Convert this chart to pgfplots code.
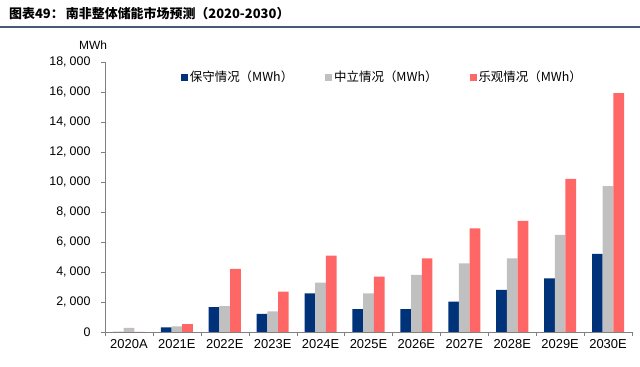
\documentclass[border=0pt]{standalone}
\usepackage{fontspec}
\setmainfont{Liberation Sans}
\newfontfamily\cjk{Noto Sans CJK SC}
\usepackage{pgfplots}
\usepackage{pgfplotstable}
\pgfplotsset{compat=1.18}
\definecolor{cons}{RGB}{0,50,122}
\definecolor{neu}{RGB}{192,192,192}
\definecolor{opt}{RGB}{255,102,102}
\definecolor{axgray}{RGB}{128,128,128}
\definecolor{rule}{RGB}{70,90,120}
\pgfplotstableread{
x cons neu opt
0 0 280 0
1 300 380 520
2 1650 1730 4200
3 1200 1380 2690
4 2580 3290 5090
5 1530 2580 3690
6 1530 3800 4910
7 2020 4580 6910
8 2800 4910 7400
9 3580 6470 10200
10 5200 9730 15930
}\data
\begin{document}
\begin{tikzpicture}
\path[use as bounding box] (0bp,0bp) rectangle (640bp,367bp);
\node[anchor=west,font=\cjk\bfseries\fontsize{13}{15}\selectfont,inner sep=0pt] at (9bp,353bp) {图表49：\,南非整体储能市场预测（2020-2030）};
\draw[rule,line width=1.2bp] (0bp,340bp) -- (640bp,340bp);
\node[font=\fontsize{12}{14}\selectfont] at (93bp,322bp) {MWh};
\begin{axis}[
  at={(105bp,35bp)}, anchor=south west,
  scale only axis, width=527bp, height=270bp,
  xmin=-0.5, xmax=10.5, ymin=0, ymax=18000,
  axis x line*=bottom, axis y line*=left,
  axis line style={axgray, -},
  ybar=0pt, bar width=10.7bp,
  xtick={0,...,10},
  xticklabels={2020A,2021E,2022E,2023E,2024E,2025E,2026E,2027E,2028E,2029E,2030E},
  major x tick style={draw=none},
  minor xtick={-0.5,0.5,...,10.5},
  minor x tick style={axgray},
  minor tick length=4bp,
  ytick={0,2000,...,18000},
  major tick length=4bp,
  tick align=outside,
  y tick style={axgray},
  scaled y ticks=false,
  /pgf/number format/.cd, 1000 sep={,\hspace{3bp}}, assume math mode=true,
  /pgfplots/.cd,
  xticklabel style={font=\fontsize{13}{15}\selectfont},
  yticklabel style={font=\fontsize{12.5}{15}\selectfont, xshift=-7bp},
  legend columns=3,
  legend style={at={(0.138,0.944)}, anchor=west, draw=none, fill=none,
    font=\cjk\fontsize{12.5}{14}\selectfont,
    /tikz/every even column/.append style={column sep=30bp}},
  legend image code/.code={\fill[#1] (0bp,-3.5bp) rectangle (7bp,3.5bp);},
]
\addplot[fill=cons, draw=none] table[x=x,y=cons]{\data};
\addplot[fill=neu, draw=none] table[x=x,y=neu]{\data};
\addplot[fill=opt, draw=none] table[x=x,y=opt]{\data};
\legend{保守情况（MWh）,中立情况（MWh）,乐观情况（MWh）}
\end{axis}
\end{tikzpicture}
\end{document}
